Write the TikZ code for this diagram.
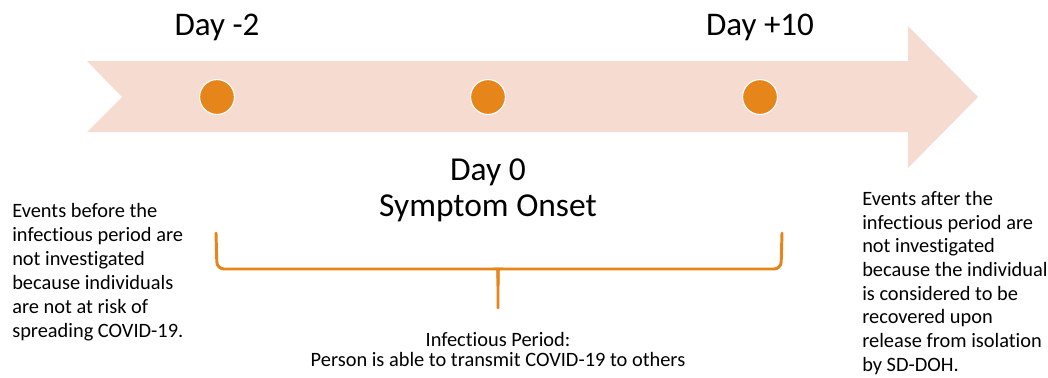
\documentclass[tikz,border=0pt]{standalone}
\usepackage{fontspec}
\setmainfont{Carlito}[Ligatures=NoCommon]
\usetikzlibrary{positioning}
\definecolor{arrowfill}{RGB}{246,219,208}
\definecolor{dayorange}{RGB}{230,133,26}
\tikzset{
  daydot/.style  = {circle, fill=dayorange, draw=white, line width=0.8pt,
                    minimum size=24.8pt, inner sep=0pt},
  daylbl/.style  = {font=\fontsize{23.5}{27}\selectfont, inner sep=0pt, anchor=base},
  onsetlbl/.style = {font=\fontsize{23.8}{25.5}\selectfont, inner sep=0pt, align=center, anchor=base},
  note/.style    = {font=\fontsize{14.5}{17}\selectfont, align=left, inner sep=0pt, anchor=base west},
  ipnote/.style  = {font=\fontsize{14.5}{14.2}\selectfont, align=center, inner sep=0pt, anchor=base},
  ipbrace/.style = {draw=dayorange, line width=2.1pt, line cap=round, rounded corners=5pt},
}

\begin{document}
\begin{tikzpicture}[x=0.025cm, y=-0.025cm]
  \useasboundingbox (0,0) rectangle (1048,377);
  % timeline arrow
  \fill[arrowfill] (87,61) -- (908,61) -- (908,26) -- (978,97) -- (908,168)
    -- (908,132) -- (87,132) -- (122,97) -- cycle;
  % day markers
  \foreach \nm/\x in {dminus/217, dzero/488, dplus/760} {
    \node[daydot] (\nm) at (\x,97) {};
  }
  \node[daylbl] (dminuslbl) at (217,35) {Day -2};
  \node[daylbl] (dpluslbl) at (760,35) {Day +10};
  \node[onsetlbl] (onset) at (488,216) {Day 0\\Symptom Onset};
  % infectious period brace
  \coordinate (braceL) at (216,233);
  \coordinate (braceR) at (782,233);
  \coordinate (braceTip) at (498,308);
  \draw[ipbrace] (braceL) -- (217,269) -- (492,269)
    .. controls (497,269) and (498,274) .. (498,286) -- (braceTip);
  \draw[ipbrace] (braceR) -- (781,269) -- (504,269)
    .. controls (499,269) and (498,274) .. (498,286);
  \node[ipnote] (infect) at (498,366)
    {Infectious Period:\\Person is able to transmit COVID-19 to others};
  % side notes
  \node[note] (before) at (12,337)
    {Events before the\\infectious period are\\not investigated\\because individuals\\are not at risk of\\spreading COVID-19.};
  \node[note, font=\fontsize{14.5}{16.8}\selectfont] (after) at (862,371)
    {Events after the\\infectious period are\\not investigated\\because the individual\\is considered to be\\recovered upon\\release from isolation\\by SD-DOH.};
\end{tikzpicture}
\end{document}
